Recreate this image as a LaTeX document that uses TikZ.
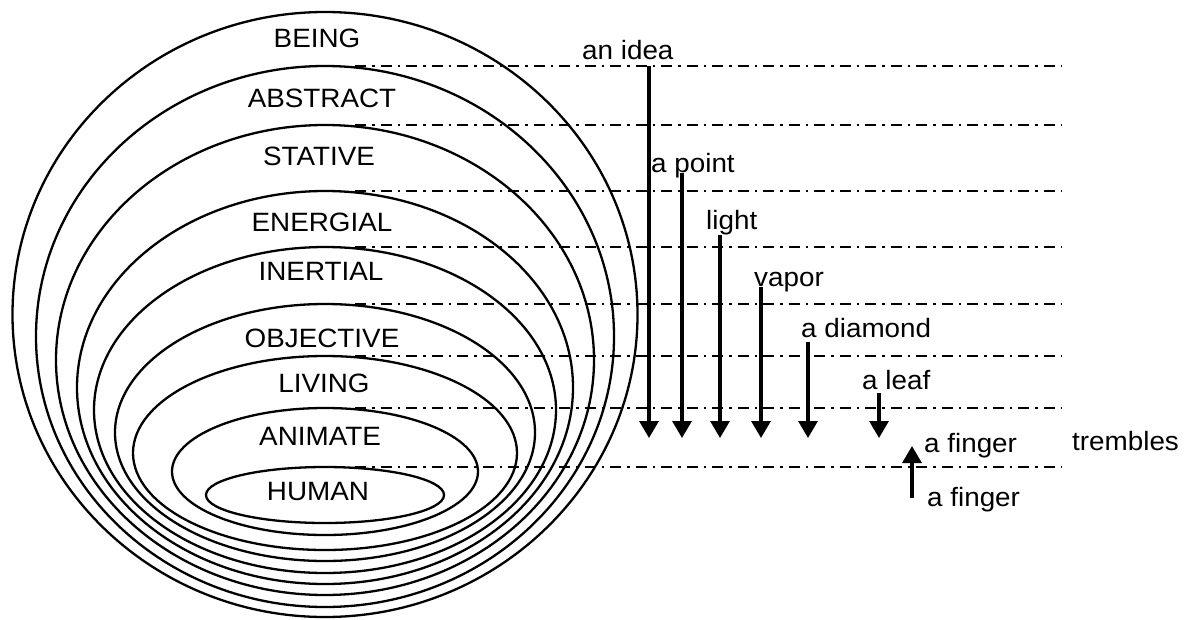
\documentclass[tikz,border=0pt]{standalone}
\usepackage{fontspec}
\setmainfont{Liberation Sans}[FakeStretch=1.05]
\usetikzlibrary{arrows.meta}
\begin{document}
\begin{tikzpicture}[x=1pt,y=-1pt,
  ring/.style={draw=black,line width=2.3pt},
  guide/.style={draw=black,line width=2pt,dash pattern=on 11pt off 6pt on 2.5pt off 6pt},
  lab/.style={inner sep=0pt,font=\fontsize{26.5}{30}\selectfont},
  word/.style={inner sep=0pt,anchor=base west,font=\fontsize{26.5}{30}\selectfont},
  fall/.style={draw=black,line width=3.2pt,-{Triangle[width=19pt,length=17pt]}}]
\useasboundingbox[fill=white] (0,0) rectangle (1188,619);
% nested ellipses
\draw[ring] (325,314.5) ellipse [x radius=312.5, y radius=302.5];
\draw[ring] (325,336.5) ellipse [x radius=289, y radius=270.5];
\draw[ring] (325,360) ellipse [x radius=269, y radius=235];
\draw[ring] (325,387.5) ellipse [x radius=248, y radius=196.5];
\draw[ring] (325,410) ellipse [x radius=231, y radius=163];
\draw[ring] (325,432.5) ellipse [x radius=210, y radius=128.5];
\draw[ring] (325,453) ellipse [x radius=192, y radius=97];
\draw[ring] (325,471.5) ellipse [x radius=153, y radius=63.5];
\draw[ring] (325,495) ellipse [x radius=119, y radius=28];
% dash-dot guide lines
\foreach \yy in {66,125,191,247,304,356,408,467}
  \draw[guide] (355,\yy) -- (1062,\yy);
% category labels
\node[lab] (being) at (317,38.5) {BEING};
\node[lab] (abstract) at (322,98.5) {ABSTRACT};
\node[lab] (stative) at (319,156) {STATIVE};
\node[lab] (energial) at (322,222) {ENERGIAL};
\node[lab] (inertial) at (321,271) {INERTIAL};
\node[lab] (objective) at (322,338) {OBJECTIVE};
\node[lab] (living) at (324,383) {LIVING};
\node[lab] (animate) at (320,436) {ANIMATE};
\node[lab] (human) at (318,492) {HUMAN};
% words
\node[word] (idea) at (582,59) {an idea};
\node[word] (point) at (651,172) {a point};
\node[word] (light) at (706,229) {light};
\node[word] (vapor) at (754,286) {vapor};
\node[word] (diamond) at (801,337) {a diamond};
\node[word] (leaf) at (862,389) {a leaf};
\node[word] (fingerA) at (924,452) {a finger};
\node[word] (trembles) at (1072,450) {trembles};
\node[word] (fingerB) at (927,506) {a finger};
% arrow ends
\coordinate (ideaTop) at (649,66);
\coordinate (ideaTip) at (649,438);
\coordinate (pointTop) at (682,173);
\coordinate (pointTip) at (682,438);
\coordinate (lightTop) at (720,235);
\coordinate (lightTip) at (720,438);
\coordinate (vaporTop) at (761,287);
\coordinate (vaporTip) at (761,438);
\coordinate (diamondTop) at (808,342);
\coordinate (diamondTip) at (808,438);
\coordinate (leafTop) at (879,393);
\coordinate (leafTip) at (879,438);
\coordinate (fingerLow) at (912,498);
\coordinate (fingerTip) at (912,446);
\draw[fall] (ideaTop) -- (ideaTip);
\draw[fall] (pointTop) -- (pointTip);
\draw[fall] (lightTop) -- (lightTip);
\draw[fall] (vaporTop) -- (vaporTip);
\draw[fall] (diamondTop) -- (diamondTip);
\draw[fall] (leafTop) -- (leafTip);
\draw[fall] (fingerLow) -- (fingerTip);
\end{tikzpicture}
\end{document}
